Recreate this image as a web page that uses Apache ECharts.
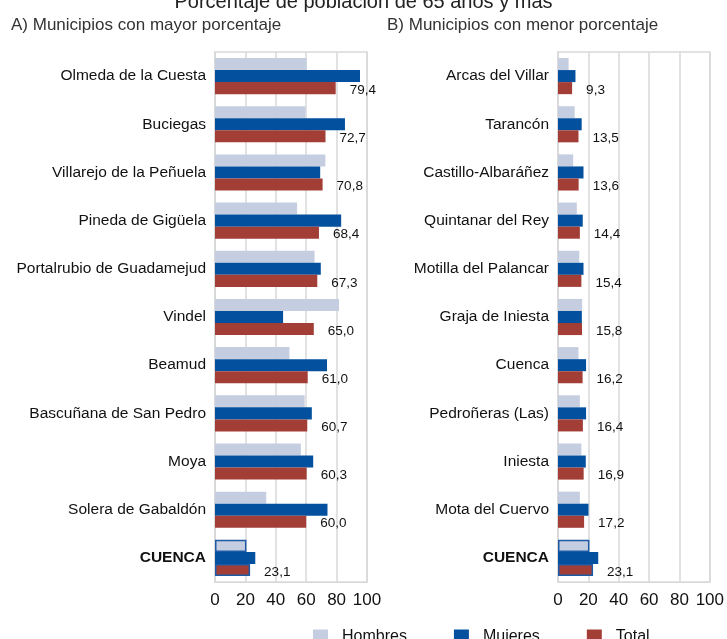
<!DOCTYPE html>
<html>
<head>
<meta charset="utf-8">
<script src="https://cdn.jsdelivr.net/npm/echarts@6/dist/echarts.min.js"></script>
<style>
  html, body { margin: 0; padding: 0; background: #fff; }
  #main { width: 727px; height: 639px; }
</style>
</head>
<body>
<div id="main"></div>
<script>
// A) municipios con mayor porcentaje
var catsA = ['Olmeda de la Cuesta', 'Buciegas', 'Villarejo de la Peñuela', 'Pineda de Gigüela',
  'Portalrubio de Guadamejud', 'Vindel', 'Beamud', 'Bascuñana de San Pedro', 'Moya',
  'Solera de Gabaldón', 'CUENCA'];
var hombresA = [60.3, 59.5, 72.6, 54.0, 65.5, 81.6, 49.0, 59.0, 56.5, 33.7, 20.7];
var mujeresA = [95.4, 85.5, 69.2, 83.0, 69.6, 44.8, 73.7, 63.7, 64.6, 74.0, 26.5];
var totalA = [79.4, 72.7, 70.8, 68.4, 67.3, 65.0, 61.0, 60.7, 60.3, 60.0, 23.1];

// B) municipios con menor porcentaje
var catsB = ['Arcas del Villar', 'Tarancón', 'Castillo-Albaráñez', 'Quintanar del Rey',
  'Motilla del Palancar', 'Graja de Iniesta', 'Cuenca', 'Pedroñeras (Las)', 'Iniesta',
  'Mota del Cuervo', 'CUENCA'];
var hombresB = [7.0, 11.0, 10.0, 12.4, 14.0, 15.9, 13.5, 14.4, 15.4, 14.4, 20.7];
var mujeresB = [11.5, 15.6, 16.8, 16.3, 16.8, 15.7, 18.5, 18.5, 18.3, 20.1, 26.5];
var totalB = [9.3, 13.5, 13.6, 14.4, 15.4, 15.8, 16.2, 16.4, 16.9, 17.2, 23.1];

var FONT = 'Liberation Sans, Arial, sans-serif';
var C_H = '#c5cee1', C_M = '#03519e', C_T = '#a33e37';
var GRID_C = '#d9d9d9';

// the province row (last) gets a blue outline
function withBorder(arr) {
  return arr.map(function (v, i) {
    if (i === arr.length - 1) {
      return { value: v, itemStyle: { borderColor: '#1d5aa6', borderWidth: 1.5 } };
    }
    return v;
  });
}

function xAxisFor(gi) {
  return {
    gridIndex: gi, type: 'value', min: 0, max: 100, interval: 20,
    axisLine: { show: true, lineStyle: { color: GRID_C } },
    axisTick: { show: false },
    splitLine: { show: true, lineStyle: { color: GRID_C, width: 1.5 } },
    axisLabel: { color: '#111', fontSize: 17, fontFamily: FONT, margin: 10 }
  };
}

function yAxisFor(gi, cats) {
  return {
    gridIndex: gi, type: 'category', data: cats, inverse: true,
    axisLine: { show: true, lineStyle: { color: GRID_C, width: 1.5 } },
    axisTick: { show: false },
    axisLabel: {
      color: '#111', fontSize: 15.5, fontFamily: FONT, margin: 9,
      formatter: function (v) { return v === 'CUENCA' ? '{b|' + v + '}' : v; },
      rich: { b: { fontWeight: 'bold', fontSize: 15.5, fontFamily: FONT, color: '#111' } }
    }
  };
}

function barsFor(gi, h, m, t) {
  var common = { type: 'bar', xAxisIndex: gi, yAxisIndex: gi, barGap: '0%', barCategoryGap: '25%' };
  return [
    Object.assign({ name: 'Hombres', data: withBorder(h), itemStyle: { color: C_H } }, common),
    Object.assign({ name: 'Mujeres', data: m, itemStyle: { color: C_M } }, common),
    Object.assign({
      name: 'Total', data: withBorder(t), itemStyle: { color: C_T },
      label: {
        show: true, position: 'right', distance: 14, offset: [0, 2],
        color: '#111', fontSize: 13.5, fontFamily: FONT,
        formatter: function (p) { return p.value.toFixed(1).replace('.', ','); }
      }
    }, common)
  ];
}

var myChart = echarts.init(document.getElementById('main'));

var option = {
  animation: false,
  title: [
    { text: 'Porcentaje de población de 65 años y más', left: 'center', top: -13,
      textStyle: { fontSize: 20, fontWeight: 'normal', color: '#222', fontFamily: FONT } },
    { text: 'A) Municipios con mayor porcentaje', left: 6, top: 12,
      textStyle: { fontSize: 17, fontWeight: 'normal', color: '#333', fontFamily: FONT } },
    { text: 'B) Municipios con menor porcentaje', left: 382, top: 12,
      textStyle: { fontSize: 17, fontWeight: 'normal', color: '#333', fontFamily: FONT } }
  ],
  legend: {
    left: 308, top: 624, itemWidth: 15, itemHeight: 15, itemGap: 47,
    icon: 'rect',
    data: ['Hombres', 'Mujeres', 'Total'],
    itemStyle: { borderWidth: 0 },
    textStyle: { fontSize: 16, color: '#111', fontFamily: FONT, padding: [0, 0, 0, 9] }
  },
  grid: [
    { left: 215, width: 152, top: 52, height: 530, show: true, borderColor: GRID_C, borderWidth: 1.5 },
    { left: 558, width: 152, top: 52, height: 530, show: true, borderColor: GRID_C, borderWidth: 1.5 }
  ],
  xAxis: [xAxisFor(0), xAxisFor(1)],
  yAxis: [yAxisFor(0, catsA), yAxisFor(1, catsB)],
  series: barsFor(0, hombresA, mujeresA, totalA).concat(barsFor(1, hombresB, mujeresB, totalB))
};

myChart.setOption(option);
</script>
</body>
</html>
